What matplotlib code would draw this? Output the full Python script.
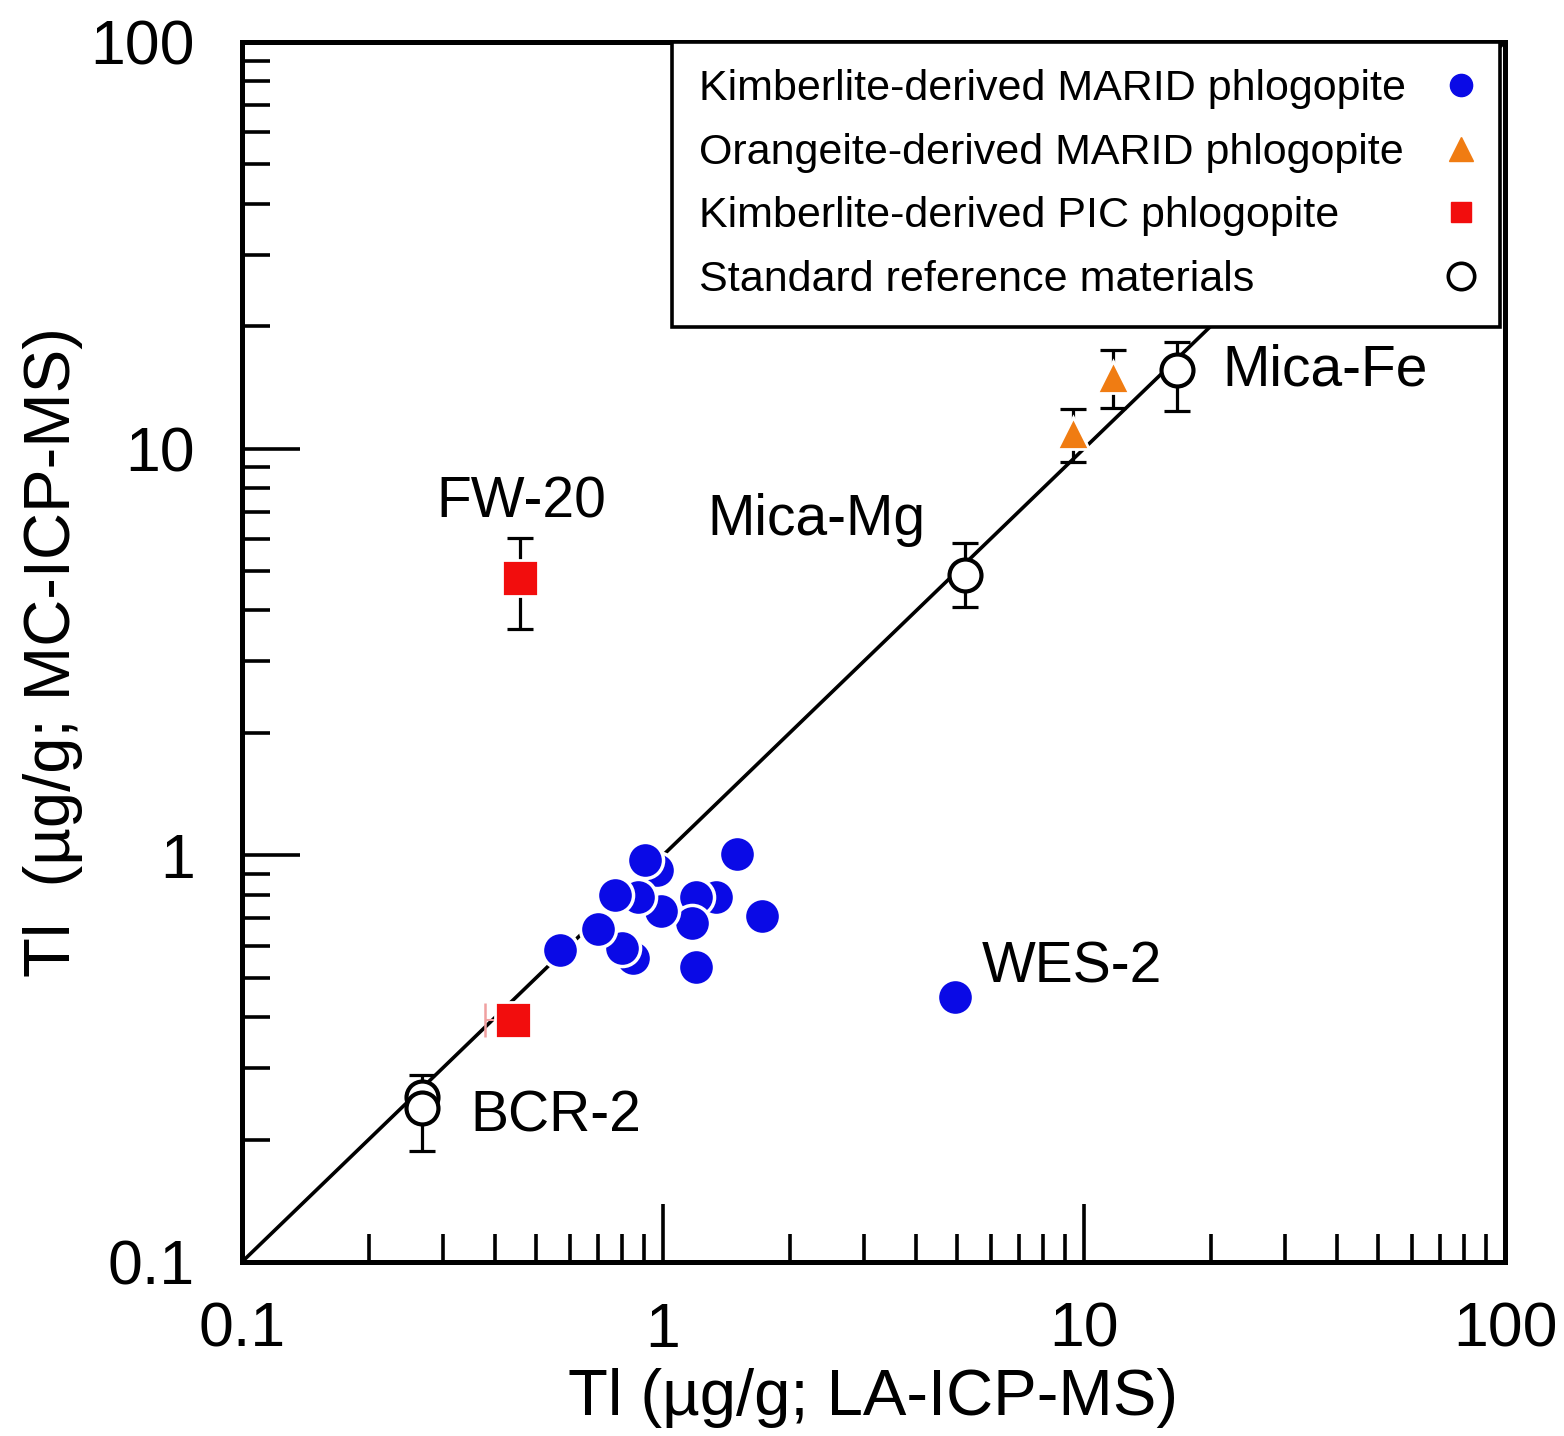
import matplotlib
matplotlib.use("Agg")
import matplotlib.pyplot as plt
from matplotlib.lines import Line2D
import numpy as np

plt.rcParams['font.family'] = ['Liberation Sans', 'DejaVu Sans']

# Kimberlite-derived MARID phlogopite (LA-ICP-MS vs MC-ICP-MS, ug/g)
kimb_marid_x = [1.34, 1.20, 1.17, 0.99, 0.97, 0.87, 0.85, 0.80, 1.20, 1.72, 1.50, 0.905, 0.77, 0.70, 0.57]
kimb_marid_y = [0.79, 0.79, 0.68, 0.73, 0.92, 0.79, 0.56, 0.59, 0.53, 0.71, 1.01, 0.975, 0.80, 0.66, 0.585]
wes2_x = [4.94]
wes2_y = [0.449]

# Orangeite-derived MARID phlogopite
orang_x = [9.42, 11.7]
orang_y = [10.9, 15.0]
orang_yerr_lo = [1.63, 2.4]
orang_yerr_hi = [1.6, 2.5]

# Kimberlite-derived PIC phlogopite
pic_x = [0.457, 0.44]
pic_y = [4.81, 0.394]
pic_yerr_lo = [1.21, 0.0]
pic_yerr_hi = [1.22, 0.0]
pic_xerr_lo = [0.0, 0.062]

# Standard reference materials
std_names = ["Mica-Fe", "Mica-Mg", "BCR-2", "BCR-2"]
std_x = [16.6, 5.21, 0.268, 0.268]
std_y = [15.6, 4.89, 0.255, 0.239]
std_yerr_lo = [3.2, 0.81, 0.0, 0.052]
std_yerr_hi = [2.7, 0.98, 0.0, 0.049]

# Sample labels
label_text = ["FW-20", "Mica-Mg", "Mica-Fe", "WES-2", "BCR-2"]
label_x = [0.462, 2.32, 21.3, 5.72, 0.348]
label_y = [7.35, 6.68, 15.6, 0.529, 0.2275]
label_ha = ["center", "center", "left", "left", "left"]

legend_labels = ["Kimberlite-derived MARID phlogopite",
                 "Orangeite-derived MARID phlogopite",
                 "Kimberlite-derived PIC phlogopite",
                 "Standard reference materials"]

blue = "#0a0ae6"
orange = "#f07c12"
red = "#f20d0d"

DPI = 100
fig = plt.figure(figsize=(15.64, 14.36), dpi=DPI)
ax = fig.add_axes([0.1547, 0.1212, 0.8076, 0.8496])
ax.set_xscale("log")
ax.set_yscale("log")
ax.set_xlim(0.1, 100)
ax.set_ylim(0.1, 100)

# 1:1 line
ax.plot([0.1, 100], [0.1, 100], color="black", lw=2.6, zorder=1, solid_capstyle="butt")

ekw = dict(ecolor="black", elinewidth=2.3, capsize=9.5, capthick=2.3, zorder=2)

# standards
ax.errorbar(std_x, std_y, yerr=[std_yerr_lo, std_yerr_hi], fmt="none", **ekw)
ax.plot(std_x, std_y, "o", ms=23, mfc="white", mec="black", mew=3.0, ls="none", zorder=3)

# orangeite triangles
ax.errorbar(orang_x, orang_y, yerr=[orang_yerr_lo, orang_yerr_hi], fmt="none", **ekw)
ax.plot(orang_x, orang_y, "^", ms=23, mfc=orange, mec="white", mew=2.0, ls="none", zorder=3)

# PIC squares
ax.errorbar(pic_x, pic_y, yerr=[pic_yerr_lo, pic_yerr_hi], fmt="none", **ekw)
ax.errorbar(pic_x, pic_y, xerr=[pic_xerr_lo, [0.0, 0.0]], fmt="none", ecolor="#f0a0a0",
            elinewidth=1.5, capsize=12, capthick=1.8, zorder=2)
ax.plot(pic_x, pic_y, "s", ms=26, mfc=red, mec="white", mew=2.0, ls="none", zorder=3)

# kimberlite MARID circles, drawn one by one so overlaps stack
for xv, yv in zip(kimb_marid_x + wes2_x, kimb_marid_y + wes2_y):
    ax.plot([xv], [yv], "o", ms=26, mfc=blue, mec="white", mew=2.5, ls="none", zorder=3)

for t, xv, yv, ha in zip(label_text, label_x, label_y, label_ha):
    ax.text(xv, yv, t, fontsize=41, ha=ha, va="center", zorder=5)

# axes styling
for s in ax.spines.values():
    s.set_linewidth(3.6)
ax.tick_params(which="both", direction="in", top=False, right=False, width=2.6, labelsize=45)
ax.tick_params(which="major", length=42)
ax.tick_params(which="minor", length=20)
ax.tick_params(axis="x", which="major", pad=28)
ax.tick_params(axis="y", which="major", pad=34)
ax.set_xticks([0.1, 1, 10, 100])
ax.set_xticklabels(["0.1", "1", "10", "100"])
ax.set_yticks([0.1, 1, 10, 100])
ax.set_yticklabels(["0.1", "1", "10", "100"])
ax.minorticks_on()
ax.xaxis.set_minor_formatter(matplotlib.ticker.NullFormatter())
ax.yaxis.set_minor_formatter(matplotlib.ticker.NullFormatter())

ax.set_xlabel("Tl (µg/g; LA-ICP-MS)", fontsize=47, labelpad=6)
ax.set_ylabel("Tl  (µg/g; MC-ICP-MS)", fontsize=47)
ax.yaxis.set_label_coords(-0.126, 0.5)

handles = [
    Line2D([], [], marker="o", ls="none", ms=16, mfc=blue, mec=blue),
    Line2D([], [], marker="^", ls="none", ms=17, mfc=orange, mec=orange),
    Line2D([], [], marker="s", ls="none", ms=14, mfc=red, mec=red),
    Line2D([], [], marker="o", ls="none", ms=19, mfc="white", mec="black", mew=2.6),
]
LEG_FS = 31
TEXTPAD = 1.01
leg = ax.legend(handles, legend_labels, loc="upper right", bbox_to_anchor=(0.996, 1.0),
                borderaxespad=0, markerfirst=False, fontsize=LEG_FS, frameon=True,
                fancybox=False, framealpha=1, edgecolor="black", handlelength=0.55,
                handletextpad=TEXTPAD, labelspacing=0.55, borderpad=0.63)
leg.get_frame().set_linewidth(2.6)
leg.set_zorder(10)

# left-align the legend texts while keeping the markers in one column on the right
fig.canvas.draw()
renderer = fig.canvas.get_renderer()
widths = [t.get_window_extent(renderer).width for t in leg.get_texts()]
wmax = max(widths)
for col in leg._legend_handle_box.get_children():
    col.align = "baseline"
    for item, w in zip(col.get_children(), widths):
        item.sep = TEXTPAD * LEG_FS + (wmax - w) * 72.0 / DPI

fig.savefig("out.png", dpi=DPI)
